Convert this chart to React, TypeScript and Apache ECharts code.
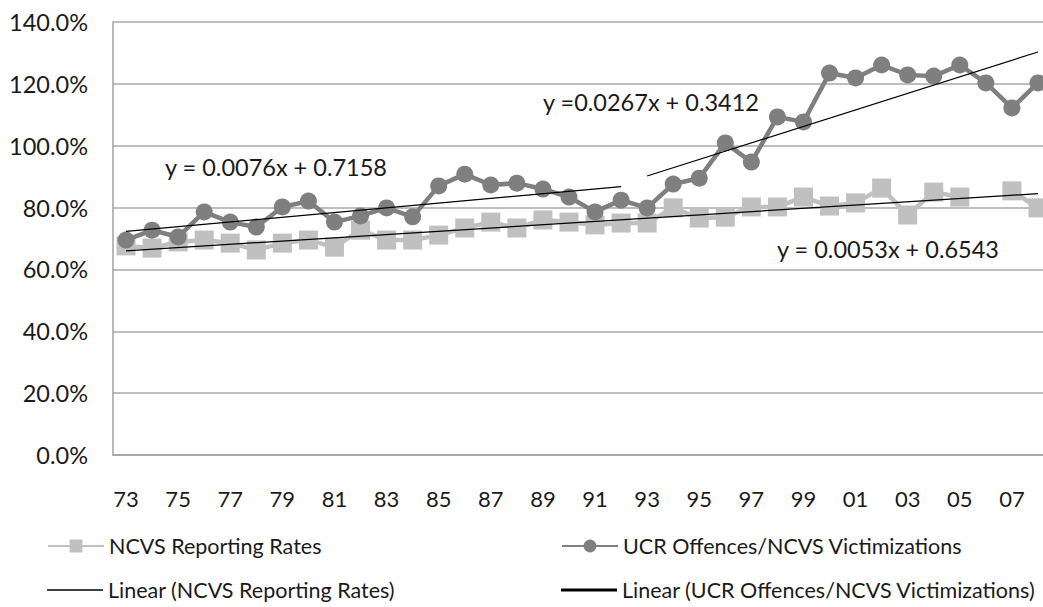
import React, { useEffect, useRef } from "react";
import * as echarts from "echarts";

const years = ["73","74","75","76","77","78","79","80","81","82","83","84","85","86","87","88","89","90","91","92","93","94","95","96","97","98","99","00","01","02","03","04","05","06","07","08"];

const ncvsRates = [67.6, 66.9, 68.9, 69.5, 68.5, 66.3, 68.5, 69.5, 67.2, 72.7, 69.5, 69.5, 71.1, 73.4, 75.3, 73.4, 76.0, 75.3, 74.4, 75.0, 75.0, 79.9, 76.6, 76.9, 80.2, 80.2, 83.4, 80.5, 81.5, 86.3, 77.6, 85.0, 83.4, null, 85.4, 79.9];

const ucrRatio = [69.5, 72.7, 70.5, 78.6, 75.3, 73.7, 80.2, 82.1, 75.3, 77.3, 79.9, 77.0, 87.0, 90.8, 87.3, 87.9, 86.0, 83.4, 78.6, 82.4, 79.9, 87.6, 89.5, 100.9, 94.7, 109.3, 107.7, 123.5, 121.9, 126.1, 122.9, 122.5, 126.1, 120.3, 112.2, 120.3];

// trendline end points: [startYear, endYear], [startValue, endValue]
const trendNcvsYears = ["73", "08"];
const trendNcvsValues = [66.0, 84.5];
const trendUcrEarlyYears = ["73", "92"];
const trendUcrEarlyValues = [72.3, 86.8];
const trendUcrLateYears = ["93", "08"];
const trendUcrLateValues = [90.2, 130.3];

const yTicks = [0, 20, 40, 60, 80, 100, 120, 140];

const eqNcvs = "y = 0.0053x + 0.6543";
const eqUcrEarly = "y = 0.0076x + 0.7158";
const eqUcrLate = "y =0.0267x + 0.3412";

const FONT = "Lato, 'Open Sans', sans-serif";

function endpointData(ys: string[], vs: number[]) {
  const d: (number | null)[] = years.map(() => null);
  d[years.indexOf(ys[0])] = vs[0];
  d[years.indexOf(ys[1])] = vs[1];
  return d;
}

export default function App() {
  const ref = useRef<HTMLDivElement>(null);
  useEffect(() => {
    if (!ref.current) return;
    const chart = echarts.init(ref.current, null, { renderer: "svg" });
    const nameN = "NCVS Reporting Rates";
    const nameU = "UCR Offences/NCVS Victimizations";
    const nameLN = "Linear (NCVS Reporting Rates)";
    const nameLU = "Linear (UCR Offences/NCVS Victimizations)";
    const legendText = { fontFamily: FONT, fontSize: 21.5, color: "#1a1a1a" };
    chart.setOption({
      animation: false,
      backgroundColor: "#ffffff",
      grid: { left: 113, width: 938, top: 22, height: 433, containLabel: false },
      xAxis: {
        type: "category",
        data: years,
        boundaryGap: true,
        axisLine: { show: true, lineStyle: { color: "#a0a0a0", width: 1.5 } },
        axisTick: { show: false },
        axisLabel: { interval: 1, margin: 32, fontFamily: FONT, fontSize: 22, color: "#1a1a1a" },
        splitLine: { show: false },
      },
      yAxis: {
        type: "value",
        min: yTicks[0],
        max: yTicks[yTicks.length - 1],
        interval: 20,
        axisLine: { show: true, lineStyle: { color: "#a0a0a0", width: 1.5 } },
        axisTick: { show: false },
        axisLabel: { margin: 25, fontFamily: FONT, fontSize: 23.5, color: "#1a1a1a", formatter: (v: number) => v.toFixed(1) + "%" },
        splitLine: { show: true, lineStyle: { color: "#a8a8a8", width: 1.5 } },
      },
      legend: [
        { data: [nameN], left: 47, top: 535, padding: 0, itemWidth: 56, itemHeight: 16, textStyle: legendText },
        { data: [nameU], left: 561, top: 535, padding: 0, itemWidth: 56, itemHeight: 16, textStyle: legendText },
        { data: [nameLN], left: 47, top: 579, padding: 0, itemWidth: 56, itemHeight: 1.5, icon: "rect", textStyle: legendText },
        { data: [nameLU], left: 561, top: 579, padding: 0, itemWidth: 56, itemHeight: 3, icon: "rect", textStyle: legendText },
      ],
      series: [
        {
          name: nameN, type: "line", data: ncvsRates, connectNulls: false,
          symbol: "rect", symbolSize: 19, showSymbol: true, showAllSymbol: true,
          lineStyle: { color: "#c0c0c0", width: 4.5 },
          itemStyle: { color: "#c0c0c0" }, z: 2,
        },
        {
          name: nameU, type: "line", data: ucrRatio,
          symbol: "circle", symbolSize: 17, showSymbol: true, showAllSymbol: true,
          lineStyle: { color: "#7f7f7f", width: 4.5 },
          itemStyle: { color: "#7f7f7f" }, z: 3,
        },
        {
          name: nameLN, type: "line", data: endpointData(trendNcvsYears, trendNcvsValues), connectNulls: true,
          symbol: "none", lineStyle: { color: "#000000", width: 1.2 }, itemStyle: { color: "#000000" }, z: 5,
        },
        {
          name: nameLU, type: "line", data: endpointData(trendUcrEarlyYears, trendUcrEarlyValues), connectNulls: true,
          symbol: "none", lineStyle: { color: "#000000", width: 1.2 }, itemStyle: { color: "#000000" }, z: 5,
        },
        {
          name: nameLU, type: "line", data: endpointData(trendUcrLateYears, trendUcrLateValues), connectNulls: true,
          symbol: "none", lineStyle: { color: "#000000", width: 1.2 }, itemStyle: { color: "#000000" }, z: 5,
        },
      ],
      graphic: [
        { type: "text", left: 165, top: 155, style: { text: eqUcrEarly, fontFamily: FONT, fontSize: 23.5, fill: "#1a1a1a" }, z: 10 },
        { type: "text", left: 543, top: 90, style: { text: eqUcrLate, fontFamily: FONT, fontSize: 23.5, fill: "#1a1a1a" }, z: 10 },
        { type: "text", left: 777, top: 237, style: { text: eqNcvs, fontFamily: FONT, fontSize: 23.5, fill: "#1a1a1a" }, z: 10 },
      ],
    });
    return () => chart.dispose();
  }, []);
  return (
    <div style={{ position: "fixed", left: 0, top: 0, width: 1043, height: 607, overflow: "hidden", background: "#fff" }}>
      <div ref={ref} style={{ position: "absolute", left: 0, top: 0, width: 1060, height: 607 }} />
    </div>
  );
}
